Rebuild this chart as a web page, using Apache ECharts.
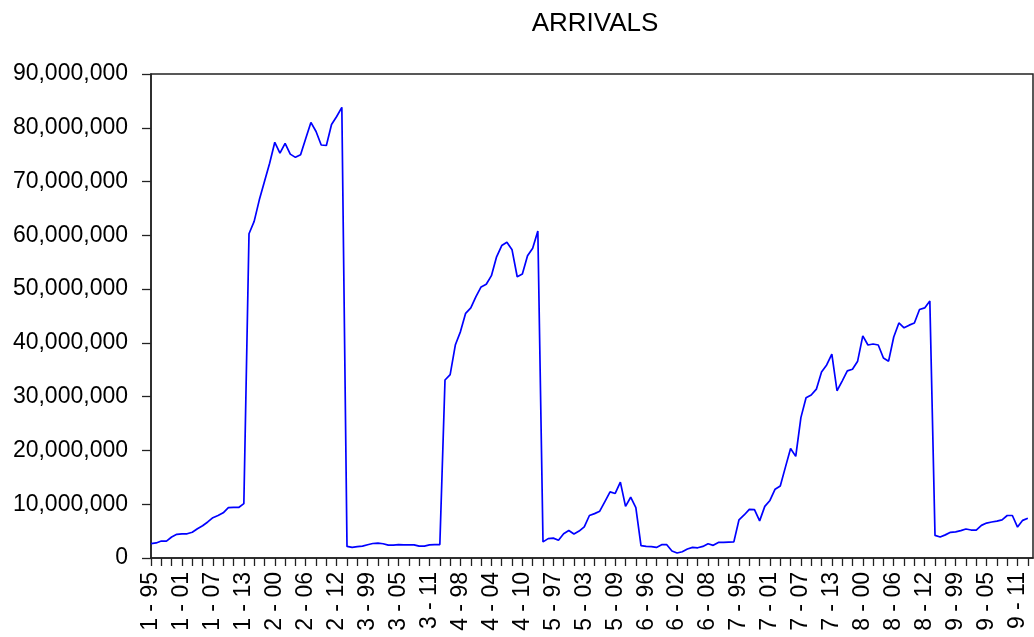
<!DOCTYPE html>
<html>
<head>
<meta charset="utf-8">
<script src="https://cdn.jsdelivr.net/npm/echarts@6/dist/echarts.min.js"></script>
<style>
  html, body { margin: 0; padding: 0; background: #fff; }
  #chart { width: 1034px; height: 637px; }
</style>
</head>
<body>
<div id="chart"></div>
<script>
// panel ids and years, labels look like "1 - 95"
const sections = ['1', '2', '3', '4', '5', '6', '7', '8', '9'];
const years = ['95', '96', '97', '98', '99', '00', '01', '02', '03', '04',
  '05', '06', '07', '08', '09', '10', '11', '12', '13'];

// arrivals per cross-section, in millions
const arrivals1 = [2.66, 2.8, 3.15, 3.15, 3.9, 4.4, 4.5, 4.5, 4.8, 5.45,
  6.0, 6.7, 7.5, 7.9, 8.4, 9.35, 9.4, 9.4, 10.1];
const arrivals2 = [60.3, 62.6, 66.6, 70.0, 73.4, 77.3, 75.3, 77.1, 75.1, 74.5,
  75.0, 78.0, 81.0, 79.3, 76.8, 76.7, 80.6, 82.1, 83.8];
const arrivals3 = [2.15, 1.97, 2.1, 2.2, 2.47, 2.7, 2.75, 2.65, 2.4, 2.4,
  2.5, 2.45, 2.45, 2.45, 2.2, 2.2, 2.45, 2.5, 2.5];
const arrivals4 = [33.1, 34.1, 39.6, 42.1, 45.5, 46.5, 48.6, 50.4, 50.9, 52.5,
  56.0, 58.1, 58.7, 57.3, 52.3, 52.8, 56.2, 57.6, 60.8];
const arrivals5 = [3.0, 3.6, 3.7, 3.3, 4.5, 5.1, 4.45, 5.0, 5.8, 7.9,
  8.25, 8.7, 10.5, 12.3, 12.0, 14.1, 9.6, 11.3, 9.35];
const arrivals6 = [2.3, 2.15, 2.1, 1.97, 2.47, 2.47, 1.3, 0.92, 1.17, 1.67,
  1.97, 1.9, 2.15, 2.65, 2.35, 2.9, 2.9, 2.97, 3.0];
const arrivals7 = [7.1, 8.0, 9.05, 9.0, 6.9, 9.6, 10.7, 12.8, 13.4, 16.9,
  20.35, 18.9, 26.1, 29.8, 30.3, 31.4, 34.6, 35.9, 37.9];
const arrivals8 = [31.1, 32.9, 34.8, 35.1, 36.6, 41.3, 39.6, 39.8, 39.6, 37.2,
  36.6, 41.1, 43.7, 42.8, 43.3, 43.7, 46.2, 46.5, 47.8];
const arrivals9 = [4.2, 3.9, 4.3, 4.77, 4.85, 5.08, 5.4, 5.2, 5.2, 6.07,
  6.5, 6.7, 6.87, 7.1, 7.9, 7.9, 5.75, 7.0, 7.4];

const categories = [];
sections.forEach(s => years.forEach(y => categories.push(s + ' - ' + y)));

const arrivals = [].concat(arrivals1, arrivals2, arrivals3, arrivals4,
  arrivals5, arrivals6, arrivals7, arrivals8, arrivals9);

const tickIdx = categories.map((c, i) => i).filter(i => i % 2 === 0);
const labelIdx = categories.map((c, i) => i).filter(i => i % 6 === 0);

const chart = echarts.init(document.getElementById('chart'));
const font = 'Liberation Sans, Arial, sans-serif';

chart.setOption({
  animation: false,
  backgroundColor: '#fff',
  title: {
    text: 'ARRIVALS',
    left: 590,
    top: 6,
    textAlign: 'center',
    textStyle: { fontFamily: font, fontSize: 26, fontWeight: 'normal', color: '#000' }
  },
  grid: {
    left: 151,
    top: 74,
    right: 1,
    bottom: 79,
    show: true,
    borderColor: '#222',
    borderWidth: 1.5
  },
  xAxis: {
    type: 'value',
    min: 0,
    max: categories.length,
    interval: 2,
    splitLine: { show: false },
    axisLine: { show: true, lineStyle: { color: '#222', width: 1.5 } },
    axisTick: {
      show: true,
      length: 8,
      customValues: tickIdx,
      lineStyle: { color: '#222', width: 1.3 }
    },
    axisLabel: {
      rotate: 90,
      margin: 14,
      customValues: labelIdx,
      fontFamily: font,
      fontSize: 23,
      color: '#000',
      formatter: v => (v % 6 === 0 && categories[v]) ? categories[v] : ''
    }
  },
  yAxis: {
    type: 'value',
    min: 0,
    max: 90,
    interval: 10,
    splitLine: { show: false },
    axisLine: { show: true, lineStyle: { color: '#222', width: 1.5 } },
    axisTick: { show: true, length: 9, lineStyle: { color: '#222', width: 1.3 } },
    axisLabel: {
      margin: 23,
      fontFamily: font,
      fontSize: 23,
      color: '#000',
      formatter: v => (v * 1000000).toLocaleString('en-US')
    }
  },
  series: [{
    name: 'ARRIVALS',
    type: 'line',
    data: arrivals.map((v, i) => [i, v]),
    showSymbol: false,
    lineStyle: { color: '#0000ff', width: 1.7 }
  }]
});
</script>
</body>
</html>
